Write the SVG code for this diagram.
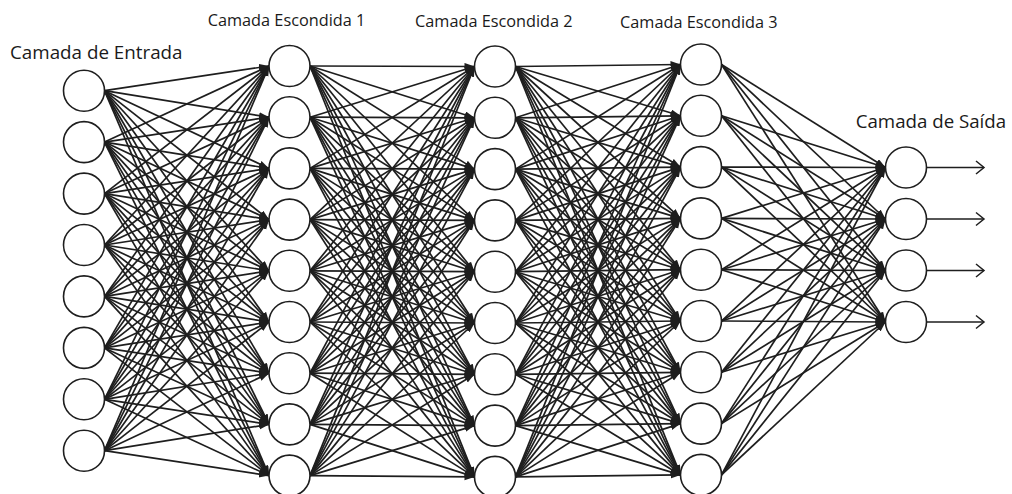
<svg xmlns="http://www.w3.org/2000/svg" width="1012" height="494" viewBox="0 0 1012 494">
<style>
.bg{fill:#fff}
.lbl{font-family:"Open Sans","Liberation Sans",sans-serif;fill:#1a1a1a}
.big{font-size:18.8px}
.sm{font-size:16.3px}
.edges line{stroke:#1e1e1e;stroke-width:1.7;fill:none;marker-end:url(#ah)}
.outs line{stroke:#1e1e1e;stroke-width:1.5}
.outs polyline{stroke:#1e1e1e;stroke-width:1.5;fill:none}
.node circle{fill:#fff;stroke:#1e1e1e;stroke-width:1.6}
</style>
<defs>
<marker id="ah" markerUnits="userSpaceOnUse" markerWidth="10" markerHeight="8" refX="10" refY="3.5" orient="auto">
<path d="M0,0 L10,3.5 L0,7 Z" fill="#1e1e1e"/>
</marker>
</defs>
<rect class="bg" width="1012" height="494"/>
<g id="labels">
<text class="lbl big" x="10" y="59">Camada de Entrada</text>
<text class="lbl sm" x="207.7" y="26">Camada Escondida 1</text>
<text class="lbl sm" x="415" y="26.7">Camada Escondida 2</text>
<text class="lbl sm" x="620" y="28">Camada Escondida 3</text>
<text class="lbl big" x="855.7" y="128.3" style="font-size:18.7px">Camada de Saída</text>
</g>
<g id="connectors" class="edges">
<line x1="104.5" y1="90.7" x2="269" y2="66"/><line x1="104.5" y1="90.7" x2="269" y2="117.2"/><line x1="104.5" y1="90.7" x2="269" y2="168.4"/><line x1="104.5" y1="90.7" x2="269" y2="219.6"/><line x1="104.5" y1="90.7" x2="269" y2="270.8"/><line x1="104.5" y1="90.7" x2="269" y2="322"/><line x1="104.5" y1="90.7" x2="269" y2="373.2"/><line x1="104.5" y1="90.7" x2="269" y2="424.4"/><line x1="104.5" y1="90.7" x2="269" y2="475.6"/>
<line x1="104.5" y1="142.1" x2="269" y2="66"/><line x1="104.5" y1="142.1" x2="269" y2="117.2"/><line x1="104.5" y1="142.1" x2="269" y2="168.4"/><line x1="104.5" y1="142.1" x2="269" y2="219.6"/><line x1="104.5" y1="142.1" x2="269" y2="270.8"/><line x1="104.5" y1="142.1" x2="269" y2="322"/><line x1="104.5" y1="142.1" x2="269" y2="373.2"/><line x1="104.5" y1="142.1" x2="269" y2="424.4"/><line x1="104.5" y1="142.1" x2="269" y2="475.6"/>
<line x1="104.5" y1="193.6" x2="269" y2="66"/><line x1="104.5" y1="193.6" x2="269" y2="117.2"/><line x1="104.5" y1="193.6" x2="269" y2="168.4"/><line x1="104.5" y1="193.6" x2="269" y2="219.6"/><line x1="104.5" y1="193.6" x2="269" y2="270.8"/><line x1="104.5" y1="193.6" x2="269" y2="322"/><line x1="104.5" y1="193.6" x2="269" y2="373.2"/><line x1="104.5" y1="193.6" x2="269" y2="424.4"/><line x1="104.5" y1="193.6" x2="269" y2="475.6"/>
<line x1="104.5" y1="245" x2="269" y2="66"/><line x1="104.5" y1="245" x2="269" y2="117.2"/><line x1="104.5" y1="245" x2="269" y2="168.4"/><line x1="104.5" y1="245" x2="269" y2="219.6"/><line x1="104.5" y1="245" x2="269" y2="270.8"/><line x1="104.5" y1="245" x2="269" y2="322"/><line x1="104.5" y1="245" x2="269" y2="373.2"/><line x1="104.5" y1="245" x2="269" y2="424.4"/><line x1="104.5" y1="245" x2="269" y2="475.6"/>
<line x1="104.5" y1="296.4" x2="269" y2="66"/><line x1="104.5" y1="296.4" x2="269" y2="117.2"/><line x1="104.5" y1="296.4" x2="269" y2="168.4"/><line x1="104.5" y1="296.4" x2="269" y2="219.6"/><line x1="104.5" y1="296.4" x2="269" y2="270.8"/><line x1="104.5" y1="296.4" x2="269" y2="322"/><line x1="104.5" y1="296.4" x2="269" y2="373.2"/><line x1="104.5" y1="296.4" x2="269" y2="424.4"/><line x1="104.5" y1="296.4" x2="269" y2="475.6"/>
<line x1="104.5" y1="347.9" x2="269" y2="66"/><line x1="104.5" y1="347.9" x2="269" y2="117.2"/><line x1="104.5" y1="347.9" x2="269" y2="168.4"/><line x1="104.5" y1="347.9" x2="269" y2="219.6"/><line x1="104.5" y1="347.9" x2="269" y2="270.8"/><line x1="104.5" y1="347.9" x2="269" y2="322"/><line x1="104.5" y1="347.9" x2="269" y2="373.2"/><line x1="104.5" y1="347.9" x2="269" y2="424.4"/><line x1="104.5" y1="347.9" x2="269" y2="475.6"/>
<line x1="104.5" y1="399.3" x2="269" y2="66"/><line x1="104.5" y1="399.3" x2="269" y2="117.2"/><line x1="104.5" y1="399.3" x2="269" y2="168.4"/><line x1="104.5" y1="399.3" x2="269" y2="219.6"/><line x1="104.5" y1="399.3" x2="269" y2="270.8"/><line x1="104.5" y1="399.3" x2="269" y2="322"/><line x1="104.5" y1="399.3" x2="269" y2="373.2"/><line x1="104.5" y1="399.3" x2="269" y2="424.4"/><line x1="104.5" y1="399.3" x2="269" y2="475.6"/>
<line x1="104.5" y1="450.7" x2="269" y2="66"/><line x1="104.5" y1="450.7" x2="269" y2="117.2"/><line x1="104.5" y1="450.7" x2="269" y2="168.4"/><line x1="104.5" y1="450.7" x2="269" y2="219.6"/><line x1="104.5" y1="450.7" x2="269" y2="270.8"/><line x1="104.5" y1="450.7" x2="269" y2="322"/><line x1="104.5" y1="450.7" x2="269" y2="373.2"/><line x1="104.5" y1="450.7" x2="269" y2="424.4"/><line x1="104.5" y1="450.7" x2="269" y2="475.6"/>

<line x1="310" y1="66" x2="474.5" y2="66.5"/><line x1="310" y1="66" x2="474.5" y2="117.8"/><line x1="310" y1="66" x2="474.5" y2="169.1"/><line x1="310" y1="66" x2="474.5" y2="220.4"/><line x1="310" y1="66" x2="474.5" y2="271.7"/><line x1="310" y1="66" x2="474.5" y2="323"/><line x1="310" y1="66" x2="474.5" y2="374.3"/><line x1="310" y1="66" x2="474.5" y2="425.6"/><line x1="310" y1="66" x2="474.5" y2="476.9"/>
<line x1="310" y1="117.2" x2="474.5" y2="66.5"/><line x1="310" y1="117.2" x2="474.5" y2="117.8"/><line x1="310" y1="117.2" x2="474.5" y2="169.1"/><line x1="310" y1="117.2" x2="474.5" y2="220.4"/><line x1="310" y1="117.2" x2="474.5" y2="271.7"/><line x1="310" y1="117.2" x2="474.5" y2="323"/><line x1="310" y1="117.2" x2="474.5" y2="374.3"/><line x1="310" y1="117.2" x2="474.5" y2="425.6"/><line x1="310" y1="117.2" x2="474.5" y2="476.9"/>
<line x1="310" y1="168.4" x2="474.5" y2="66.5"/><line x1="310" y1="168.4" x2="474.5" y2="117.8"/><line x1="310" y1="168.4" x2="474.5" y2="169.1"/><line x1="310" y1="168.4" x2="474.5" y2="220.4"/><line x1="310" y1="168.4" x2="474.5" y2="271.7"/><line x1="310" y1="168.4" x2="474.5" y2="323"/><line x1="310" y1="168.4" x2="474.5" y2="374.3"/><line x1="310" y1="168.4" x2="474.5" y2="425.6"/><line x1="310" y1="168.4" x2="474.5" y2="476.9"/>
<line x1="310" y1="219.6" x2="474.5" y2="66.5"/><line x1="310" y1="219.6" x2="474.5" y2="117.8"/><line x1="310" y1="219.6" x2="474.5" y2="169.1"/><line x1="310" y1="219.6" x2="474.5" y2="220.4"/><line x1="310" y1="219.6" x2="474.5" y2="271.7"/><line x1="310" y1="219.6" x2="474.5" y2="323"/><line x1="310" y1="219.6" x2="474.5" y2="374.3"/><line x1="310" y1="219.6" x2="474.5" y2="425.6"/><line x1="310" y1="219.6" x2="474.5" y2="476.9"/>
<line x1="310" y1="270.8" x2="474.5" y2="66.5"/><line x1="310" y1="270.8" x2="474.5" y2="117.8"/><line x1="310" y1="270.8" x2="474.5" y2="169.1"/><line x1="310" y1="270.8" x2="474.5" y2="220.4"/><line x1="310" y1="270.8" x2="474.5" y2="271.7"/><line x1="310" y1="270.8" x2="474.5" y2="323"/><line x1="310" y1="270.8" x2="474.5" y2="374.3"/><line x1="310" y1="270.8" x2="474.5" y2="425.6"/><line x1="310" y1="270.8" x2="474.5" y2="476.9"/>
<line x1="310" y1="322" x2="474.5" y2="66.5"/><line x1="310" y1="322" x2="474.5" y2="117.8"/><line x1="310" y1="322" x2="474.5" y2="169.1"/><line x1="310" y1="322" x2="474.5" y2="220.4"/><line x1="310" y1="322" x2="474.5" y2="271.7"/><line x1="310" y1="322" x2="474.5" y2="323"/><line x1="310" y1="322" x2="474.5" y2="374.3"/><line x1="310" y1="322" x2="474.5" y2="425.6"/><line x1="310" y1="322" x2="474.5" y2="476.9"/>
<line x1="310" y1="373.2" x2="474.5" y2="66.5"/><line x1="310" y1="373.2" x2="474.5" y2="117.8"/><line x1="310" y1="373.2" x2="474.5" y2="169.1"/><line x1="310" y1="373.2" x2="474.5" y2="220.4"/><line x1="310" y1="373.2" x2="474.5" y2="271.7"/><line x1="310" y1="373.2" x2="474.5" y2="323"/><line x1="310" y1="373.2" x2="474.5" y2="374.3"/><line x1="310" y1="373.2" x2="474.5" y2="425.6"/><line x1="310" y1="373.2" x2="474.5" y2="476.9"/>
<line x1="310" y1="424.4" x2="474.5" y2="66.5"/><line x1="310" y1="424.4" x2="474.5" y2="117.8"/><line x1="310" y1="424.4" x2="474.5" y2="169.1"/><line x1="310" y1="424.4" x2="474.5" y2="220.4"/><line x1="310" y1="424.4" x2="474.5" y2="271.7"/><line x1="310" y1="424.4" x2="474.5" y2="323"/><line x1="310" y1="424.4" x2="474.5" y2="374.3"/><line x1="310" y1="424.4" x2="474.5" y2="425.6"/><line x1="310" y1="424.4" x2="474.5" y2="476.9"/>
<line x1="310" y1="475.6" x2="474.5" y2="66.5"/><line x1="310" y1="475.6" x2="474.5" y2="117.8"/><line x1="310" y1="475.6" x2="474.5" y2="169.1"/><line x1="310" y1="475.6" x2="474.5" y2="220.4"/><line x1="310" y1="475.6" x2="474.5" y2="271.7"/><line x1="310" y1="475.6" x2="474.5" y2="323"/><line x1="310" y1="475.6" x2="474.5" y2="374.3"/><line x1="310" y1="475.6" x2="474.5" y2="425.6"/><line x1="310" y1="475.6" x2="474.5" y2="476.9"/>

<line x1="515.5" y1="66.5" x2="680.5" y2="64.5"/><line x1="515.5" y1="66.5" x2="680.5" y2="115.8"/><line x1="515.5" y1="66.5" x2="680.5" y2="167.1"/><line x1="515.5" y1="66.5" x2="680.5" y2="218.4"/><line x1="515.5" y1="66.5" x2="680.5" y2="269.7"/><line x1="515.5" y1="66.5" x2="680.5" y2="321"/><line x1="515.5" y1="66.5" x2="680.5" y2="372.3"/><line x1="515.5" y1="66.5" x2="680.5" y2="423.6"/><line x1="515.5" y1="66.5" x2="680.5" y2="474.9"/>
<line x1="515.5" y1="117.8" x2="680.5" y2="64.5"/><line x1="515.5" y1="117.8" x2="680.5" y2="115.8"/><line x1="515.5" y1="117.8" x2="680.5" y2="167.1"/><line x1="515.5" y1="117.8" x2="680.5" y2="218.4"/><line x1="515.5" y1="117.8" x2="680.5" y2="269.7"/><line x1="515.5" y1="117.8" x2="680.5" y2="321"/><line x1="515.5" y1="117.8" x2="680.5" y2="372.3"/><line x1="515.5" y1="117.8" x2="680.5" y2="423.6"/><line x1="515.5" y1="117.8" x2="680.5" y2="474.9"/>
<line x1="515.5" y1="169.1" x2="680.5" y2="64.5"/><line x1="515.5" y1="169.1" x2="680.5" y2="115.8"/><line x1="515.5" y1="169.1" x2="680.5" y2="167.1"/><line x1="515.5" y1="169.1" x2="680.5" y2="218.4"/><line x1="515.5" y1="169.1" x2="680.5" y2="269.7"/><line x1="515.5" y1="169.1" x2="680.5" y2="321"/><line x1="515.5" y1="169.1" x2="680.5" y2="372.3"/><line x1="515.5" y1="169.1" x2="680.5" y2="423.6"/><line x1="515.5" y1="169.1" x2="680.5" y2="474.9"/>
<line x1="515.5" y1="220.4" x2="680.5" y2="64.5"/><line x1="515.5" y1="220.4" x2="680.5" y2="115.8"/><line x1="515.5" y1="220.4" x2="680.5" y2="167.1"/><line x1="515.5" y1="220.4" x2="680.5" y2="218.4"/><line x1="515.5" y1="220.4" x2="680.5" y2="269.7"/><line x1="515.5" y1="220.4" x2="680.5" y2="321"/><line x1="515.5" y1="220.4" x2="680.5" y2="372.3"/><line x1="515.5" y1="220.4" x2="680.5" y2="423.6"/><line x1="515.5" y1="220.4" x2="680.5" y2="474.9"/>
<line x1="515.5" y1="271.7" x2="680.5" y2="64.5"/><line x1="515.5" y1="271.7" x2="680.5" y2="115.8"/><line x1="515.5" y1="271.7" x2="680.5" y2="167.1"/><line x1="515.5" y1="271.7" x2="680.5" y2="218.4"/><line x1="515.5" y1="271.7" x2="680.5" y2="269.7"/><line x1="515.5" y1="271.7" x2="680.5" y2="321"/><line x1="515.5" y1="271.7" x2="680.5" y2="372.3"/><line x1="515.5" y1="271.7" x2="680.5" y2="423.6"/><line x1="515.5" y1="271.7" x2="680.5" y2="474.9"/>
<line x1="515.5" y1="323" x2="680.5" y2="64.5"/><line x1="515.5" y1="323" x2="680.5" y2="115.8"/><line x1="515.5" y1="323" x2="680.5" y2="167.1"/><line x1="515.5" y1="323" x2="680.5" y2="218.4"/><line x1="515.5" y1="323" x2="680.5" y2="269.7"/><line x1="515.5" y1="323" x2="680.5" y2="321"/><line x1="515.5" y1="323" x2="680.5" y2="372.3"/><line x1="515.5" y1="323" x2="680.5" y2="423.6"/><line x1="515.5" y1="323" x2="680.5" y2="474.9"/>
<line x1="515.5" y1="374.3" x2="680.5" y2="64.5"/><line x1="515.5" y1="374.3" x2="680.5" y2="115.8"/><line x1="515.5" y1="374.3" x2="680.5" y2="167.1"/><line x1="515.5" y1="374.3" x2="680.5" y2="218.4"/><line x1="515.5" y1="374.3" x2="680.5" y2="269.7"/><line x1="515.5" y1="374.3" x2="680.5" y2="321"/><line x1="515.5" y1="374.3" x2="680.5" y2="372.3"/><line x1="515.5" y1="374.3" x2="680.5" y2="423.6"/><line x1="515.5" y1="374.3" x2="680.5" y2="474.9"/>
<line x1="515.5" y1="425.6" x2="680.5" y2="64.5"/><line x1="515.5" y1="425.6" x2="680.5" y2="115.8"/><line x1="515.5" y1="425.6" x2="680.5" y2="167.1"/><line x1="515.5" y1="425.6" x2="680.5" y2="218.4"/><line x1="515.5" y1="425.6" x2="680.5" y2="269.7"/><line x1="515.5" y1="425.6" x2="680.5" y2="321"/><line x1="515.5" y1="425.6" x2="680.5" y2="372.3"/><line x1="515.5" y1="425.6" x2="680.5" y2="423.6"/><line x1="515.5" y1="425.6" x2="680.5" y2="474.9"/>
<line x1="515.5" y1="476.9" x2="680.5" y2="64.5"/><line x1="515.5" y1="476.9" x2="680.5" y2="115.8"/><line x1="515.5" y1="476.9" x2="680.5" y2="167.1"/><line x1="515.5" y1="476.9" x2="680.5" y2="218.4"/><line x1="515.5" y1="476.9" x2="680.5" y2="269.7"/><line x1="515.5" y1="476.9" x2="680.5" y2="321"/><line x1="515.5" y1="476.9" x2="680.5" y2="372.3"/><line x1="515.5" y1="476.9" x2="680.5" y2="423.6"/><line x1="515.5" y1="476.9" x2="680.5" y2="474.9"/>

<line x1="721.5" y1="64.5" x2="885.5" y2="167.5"/><line x1="721.5" y1="64.5" x2="885.5" y2="219"/><line x1="721.5" y1="64.5" x2="885.5" y2="270.5"/><line x1="721.5" y1="64.5" x2="885.5" y2="322"/>
<line x1="721.5" y1="115.8" x2="885.5" y2="167.5"/><line x1="721.5" y1="115.8" x2="885.5" y2="219"/><line x1="721.5" y1="115.8" x2="885.5" y2="270.5"/><line x1="721.5" y1="115.8" x2="885.5" y2="322"/>
<line x1="721.5" y1="167.1" x2="885.5" y2="167.5"/><line x1="721.5" y1="167.1" x2="885.5" y2="219"/><line x1="721.5" y1="167.1" x2="885.5" y2="270.5"/><line x1="721.5" y1="167.1" x2="885.5" y2="322"/>
<line x1="721.5" y1="218.4" x2="885.5" y2="167.5"/><line x1="721.5" y1="218.4" x2="885.5" y2="219"/><line x1="721.5" y1="218.4" x2="885.5" y2="270.5"/><line x1="721.5" y1="218.4" x2="885.5" y2="322"/>
<line x1="721.5" y1="269.7" x2="885.5" y2="167.5"/><line x1="721.5" y1="269.7" x2="885.5" y2="219"/><line x1="721.5" y1="269.7" x2="885.5" y2="270.5"/><line x1="721.5" y1="269.7" x2="885.5" y2="322"/>
<line x1="721.5" y1="321" x2="885.5" y2="167.5"/><line x1="721.5" y1="321" x2="885.5" y2="219"/><line x1="721.5" y1="321" x2="885.5" y2="270.5"/><line x1="721.5" y1="321" x2="885.5" y2="322"/>
<line x1="721.5" y1="372.3" x2="885.5" y2="167.5"/><line x1="721.5" y1="372.3" x2="885.5" y2="219"/><line x1="721.5" y1="372.3" x2="885.5" y2="270.5"/><line x1="721.5" y1="372.3" x2="885.5" y2="322"/>
<line x1="721.5" y1="423.6" x2="885.5" y2="167.5"/><line x1="721.5" y1="423.6" x2="885.5" y2="219"/><line x1="721.5" y1="423.6" x2="885.5" y2="270.5"/><line x1="721.5" y1="423.6" x2="885.5" y2="322"/>
<line x1="721.5" y1="474.9" x2="885.5" y2="167.5"/><line x1="721.5" y1="474.9" x2="885.5" y2="219"/><line x1="721.5" y1="474.9" x2="885.5" y2="270.5"/><line x1="721.5" y1="474.9" x2="885.5" y2="322"/>
</g>
<g id="outputs" class="outs">
<line x1="926.5" y1="167.5" x2="984" y2="167.5"/><polyline points="976,161 984,167.5 976,174"/>
<line x1="926.5" y1="219" x2="984" y2="219"/><polyline points="976,212.5 984,219 976,225.5"/>
<line x1="926.5" y1="270.5" x2="984" y2="270.5"/><polyline points="976,264 984,270.5 976,277"/>
<line x1="926.5" y1="322" x2="984" y2="322"/><polyline points="976,315.5 984,322 976,328.5"/>
</g>
<g id="nodes">
<g id="in1" class="node"><circle cx="84" cy="90.7" r="20.5"/></g>
<g id="in2" class="node"><circle cx="84" cy="142.1" r="20.5"/></g>
<g id="in3" class="node"><circle cx="84" cy="193.6" r="20.5"/></g>
<g id="in4" class="node"><circle cx="84" cy="245" r="20.5"/></g>
<g id="in5" class="node"><circle cx="84" cy="296.4" r="20.5"/></g>
<g id="in6" class="node"><circle cx="84" cy="347.9" r="20.5"/></g>
<g id="in7" class="node"><circle cx="84" cy="399.3" r="20.5"/></g>
<g id="in8" class="node"><circle cx="84" cy="450.7" r="20.5"/></g>
<g id="h1n1" class="node"><circle cx="289.5" cy="66" r="20.5"/></g>
<g id="h1n2" class="node"><circle cx="289.5" cy="117.2" r="20.5"/></g>
<g id="h1n3" class="node"><circle cx="289.5" cy="168.4" r="20.5"/></g>
<g id="h1n4" class="node"><circle cx="289.5" cy="219.6" r="20.5"/></g>
<g id="h1n5" class="node"><circle cx="289.5" cy="270.8" r="20.5"/></g>
<g id="h1n6" class="node"><circle cx="289.5" cy="322" r="20.5"/></g>
<g id="h1n7" class="node"><circle cx="289.5" cy="373.2" r="20.5"/></g>
<g id="h1n8" class="node"><circle cx="289.5" cy="424.4" r="20.5"/></g>
<g id="h1n9" class="node"><circle cx="289.5" cy="475.6" r="20.5"/></g>
<g id="h2n1" class="node"><circle cx="495" cy="66.5" r="20.5"/></g>
<g id="h2n2" class="node"><circle cx="495" cy="117.8" r="20.5"/></g>
<g id="h2n3" class="node"><circle cx="495" cy="169.1" r="20.5"/></g>
<g id="h2n4" class="node"><circle cx="495" cy="220.4" r="20.5"/></g>
<g id="h2n5" class="node"><circle cx="495" cy="271.7" r="20.5"/></g>
<g id="h2n6" class="node"><circle cx="495" cy="323" r="20.5"/></g>
<g id="h2n7" class="node"><circle cx="495" cy="374.3" r="20.5"/></g>
<g id="h2n8" class="node"><circle cx="495" cy="425.6" r="20.5"/></g>
<g id="h2n9" class="node"><circle cx="495" cy="476.9" r="20.5"/></g>
<g id="h3n1" class="node"><circle cx="701" cy="64.5" r="20.5"/></g>
<g id="h3n2" class="node"><circle cx="701" cy="115.8" r="20.5"/></g>
<g id="h3n3" class="node"><circle cx="701" cy="167.1" r="20.5"/></g>
<g id="h3n4" class="node"><circle cx="701" cy="218.4" r="20.5"/></g>
<g id="h3n5" class="node"><circle cx="701" cy="269.7" r="20.5"/></g>
<g id="h3n6" class="node"><circle cx="701" cy="321" r="20.5"/></g>
<g id="h3n7" class="node"><circle cx="701" cy="372.3" r="20.5"/></g>
<g id="h3n8" class="node"><circle cx="701" cy="423.6" r="20.5"/></g>
<g id="h3n9" class="node"><circle cx="701" cy="474.9" r="20.5"/></g>
<g id="out1" class="node"><circle cx="906" cy="167.5" r="20.5"/></g>
<g id="out2" class="node"><circle cx="906" cy="219" r="20.5"/></g>
<g id="out3" class="node"><circle cx="906" cy="270.5" r="20.5"/></g>
<g id="out4" class="node"><circle cx="906" cy="322" r="20.5"/></g>
</g>
</svg>
